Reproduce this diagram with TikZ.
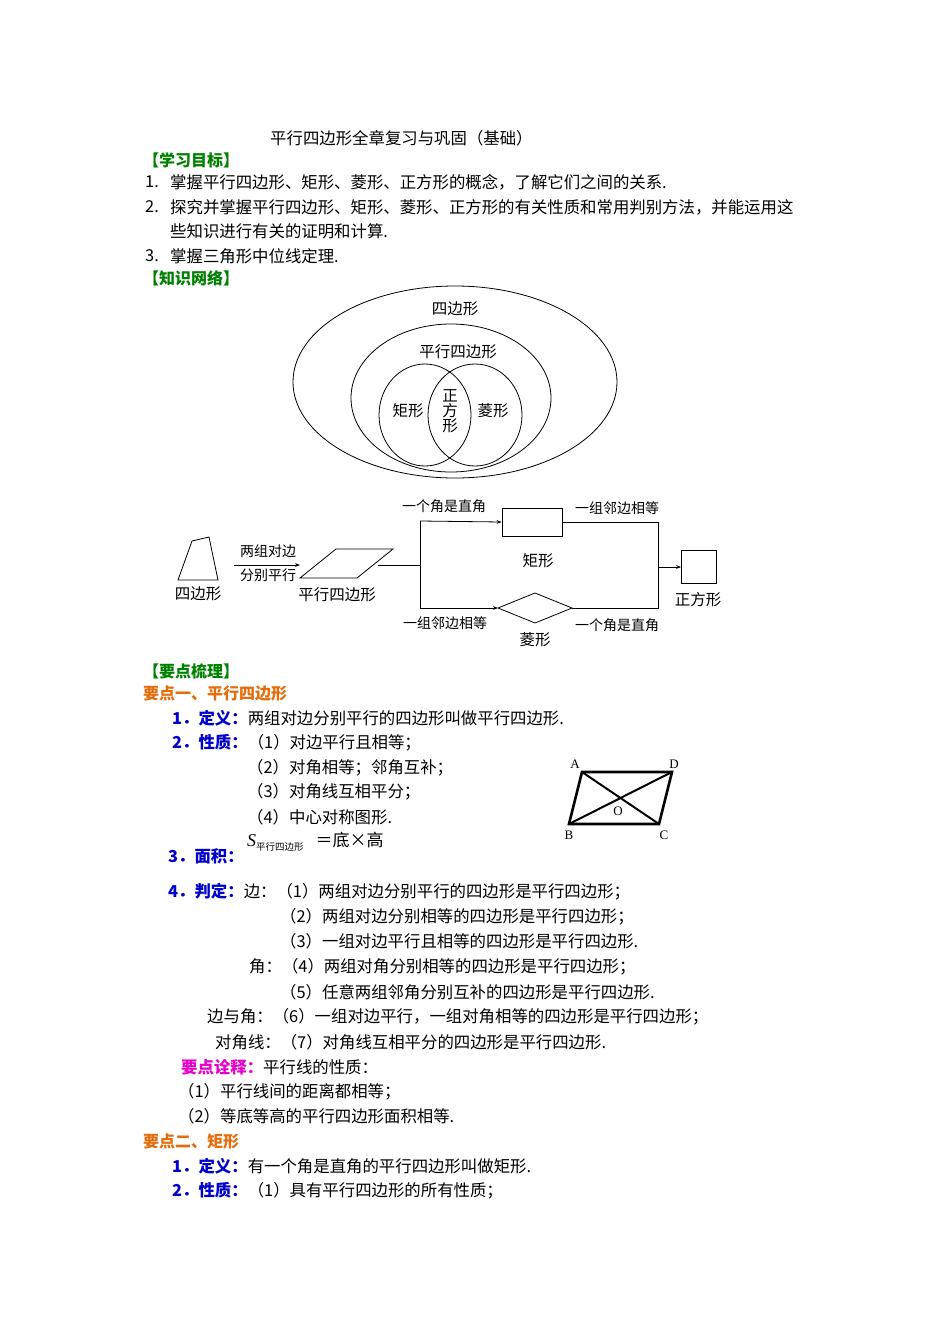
\documentclass[tikz,border=0pt]{standalone}
\usepackage{fontspec}
\setmainfont{Noto Sans CJK SC}
\newfontfamily\lat{Liberation Serif}
\usetikzlibrary{arrows.meta}
\definecolor{grn}{RGB}{0,128,0}
\definecolor{org}{RGB}{228,108,10}
\definecolor{blu}{RGB}{0,0,204}
\definecolor{mag}{RGB}{230,0,200}
\begin{document}
\begin{tikzpicture}[x=1pt,y=-1pt,
 t/.style={anchor=west,inner sep=0pt,font=\fontsize{16.4}{18}\selectfont},
 c/.style={inner sep=0pt,font=\fontsize{15.5}{17}\selectfont},
 s/.style={inner sep=0pt,font=\fontsize{14}{15}\selectfont},
 hd/.style={t,font=\fontsize{16}{18}\selectfont\bfseries},
 ln/.style={line width=0.8pt},
 ar/.style={ln,-{Stealth[length=5pt]}}]
\useasboundingbox (0,0) rectangle (950,1344);
\node[t] (title) at (270,138) {平行四边形全章复习与巩固（基础）};
\node[hd,text=grn] (h1) at (143,160) {【学习目标】};
\node[t] (g1n) at (145,182) {1.};
\node[t] (g1) at (170,182) {掌握平行四边形、矩形、菱形、正方形的概念，了解它们之间的关系.};
\node[t] (g2n) at (145,207) {2.};
\node[t] (g2) at (170,207) {探究并掌握平行四边形、矩形、菱形、正方形的有关性质和常用判别方法，并能运用这};
\node[t] (g2b) at (170,231) {些知识进行有关的证明和计算.};
\node[t] (g3n) at (145,256) {3.};
\node[t] (g3) at (170,256) {掌握三角形中位线定理.};
\node[hd,text=grn] (h2) at (143,278) {【知识网络】};
% Venn
\draw[ln] (455,382) ellipse [x radius=162,y radius=96];
\draw[ln] (451,398) ellipse [x radius=100,y radius=74];
\draw[ln] (425,415) ellipse [x radius=46,y radius=51];
\draw[ln] (475,415) ellipse [x radius=47,y radius=51];
\node[c] (v1) at (455,309) {四边形};
\node[c] (v2) at (458,352) {平行四边形};
\node[c] (v3) at (408,411) {矩形};
\node[c,align=center,font=\fontsize{15.5}{15}\selectfont] (v4) at (450,411) {正\\方\\形};
\node[c] (v5) at (493,411) {菱形};
% flowchart
\draw[ln] (178,580) -- (218,580) -- (209,537) -- (192,541) -- cycle;
\node[c] (q) at (198,594) {四边形};
\coordinate (q1) at (234,565);
\draw[ln] (300,578) -- (336,549) -- (393,549) -- (357,578) -- cycle;
\coordinate (p0) at (300,565);
\draw[ar] (q1) -- (p0);
\node[s] (l1) at (268,551) {两组对边};
\node[s] (l2) at (268,575) {分别平行};
\node[c] (pl) at (337,595) {平行四边形};
\coordinate (pr) at (378,565);
\coordinate (j) at (420,565);
\coordinate (jt) at (420,521);
\coordinate (jb) at (420,608);
\draw[ln] (pr) -- (j) (jt) -- (jb);
\node[draw,ln,minimum width=60pt,minimum height=28pt,inner sep=0pt] (rect) at (532,522) {};
\draw[ar] (jt) -- (rect.west);
\node[draw,ln,minimum width=35pt,minimum height=33pt,inner sep=0pt] (sq) at (699,567) {};
\draw[ln] (498,608) -- (535,593) -- (572,608) -- (535,623) -- cycle;
\coordinate (dl) at (498,608);
\coordinate (dr) at (572,608);
\coordinate (rt) at (658,522);
\coordinate (rb) at (658,608);
\coordinate (rm) at (658,567);
\draw[ar] (jb) -- (dl);
\draw[ln] (rect.east) -- (rt) -- (rb) -- (dr);
\draw[ar] (rm) -- (sq.west);
\node[s] (a1) at (444,506) {一个角是直角};
\node[s] (a2) at (617,508) {一组邻边相等};
\node[c] (rl) at (538,561) {矩形};
\node[c] (sl) at (698,600) {正方形};
\node[s] (a3) at (445,623) {一组邻边相等};
\node[c] (dml) at (535,640) {菱形};
\node[s] (a4) at (617,625) {一个角是直角};
% notes
\node[hd,text=grn] (h3) at (143,671) {【要点梳理】};
\node[hd,text=org] (k1) at (143,693) {要点一、平行四边形};
\node[t] (d1) at (172,718) {\textcolor{blu}{\bfseries 1．定义：}两组对边分别平行的四边形叫做平行四边形.};
\node[t] (d2) at (172,743) {\textcolor{blu}{\bfseries 2．性质：}（1）对边平行且相等；};
\node[t] (d3) at (247,768) {（2）对角相等；邻角互补；};
\node[t] (d4) at (247,792) {（3）对角线互相平分；};
\node[t] (d5) at (247,817) {（4）中心对称图形.};
\node[t] (d6) at (247,842) {\lat\itshape\fontsize{18}{18}\selectfont S\raisebox{-4pt}{\upshape\rmfamily\fontsize{9.5}{10}\selectfont 平行四边形}\hspace{12pt}\upshape\rmfamily\fontsize{17}{18}\selectfont ＝底×高};
\node[t] (d7) at (168,856) {\textcolor{blu}{\bfseries 3．面积：}};
\node[t] (e1) at (168,892) {\textcolor{blu}{\bfseries 4．判定：}边：（1）两组对边分别平行的四边形是平行四边形；};
\node[t] (e2) at (280,917) {（2）两组对边分别相等的四边形是平行四边形；};
\node[t] (e3) at (280,941) {（3）一组对边平行且相等的四边形是平行四边形.};
\node[t] (e4) at (249,967) {角：（4）两组对角分别相等的四边形是平行四边形；};
\node[t] (e5) at (280,992) {（5）任意两组邻角分别互补的四边形是平行四边形.};
\node[t] (e6) at (207,1017) {边与角：（6）一组对边平行，一组对角相等的四边形是平行四边形；};
\node[t] (e7) at (215,1042) {对角线：（7）对角线互相平分的四边形是平行四边形.};
\node[t] (f0) at (181,1067) {\textcolor{mag}{\bfseries 要点诠释：}平行线的性质：};
\node[t] (f1) at (178,1092) {（1）平行线间的距离都相等；};
\node[t] (f2) at (178,1116) {（2）等底等高的平行四边形面积相等.};
\node[hd,text=org] (k2) at (143,1141) {要点二、矩形};
\node[t] (g4) at (172,1166) {\textcolor{blu}{\bfseries 1．定义：}有一个角是直角的平行四边形叫做矩形.};
\node[t] (g5) at (172,1191) {\textcolor{blu}{\bfseries 2．性质：}（1）具有平行四边形的所有性质；};
% ABCD
\coordinate (A) at (582,772);
\coordinate (D) at (672,772);
\coordinate (B) at (569,824);
\coordinate (C) at (659,824);
\draw[line width=2.6pt,line join=miter] (A) -- (D) -- (C) -- (B) -- cycle;
\draw[line width=2pt] (A) -- (C) (B) -- (D);
\node[c,font=\lat\fontsize{13}{14}\selectfont] (la) at (575,764) {A};
\node[c,font=\lat\fontsize{13}{14}\selectfont] (ld) at (674,764) {D};
\node[c,font=\lat\fontsize{13}{14}\selectfont] (lb) at (569,835) {B};
\node[c,font=\lat\fontsize{13}{14}\selectfont] (lc) at (664,835) {C};
\node[c,font=\lat\fontsize{13}{14}\selectfont] (lo) at (618,811) {O};
\end{tikzpicture}
\end{document}
